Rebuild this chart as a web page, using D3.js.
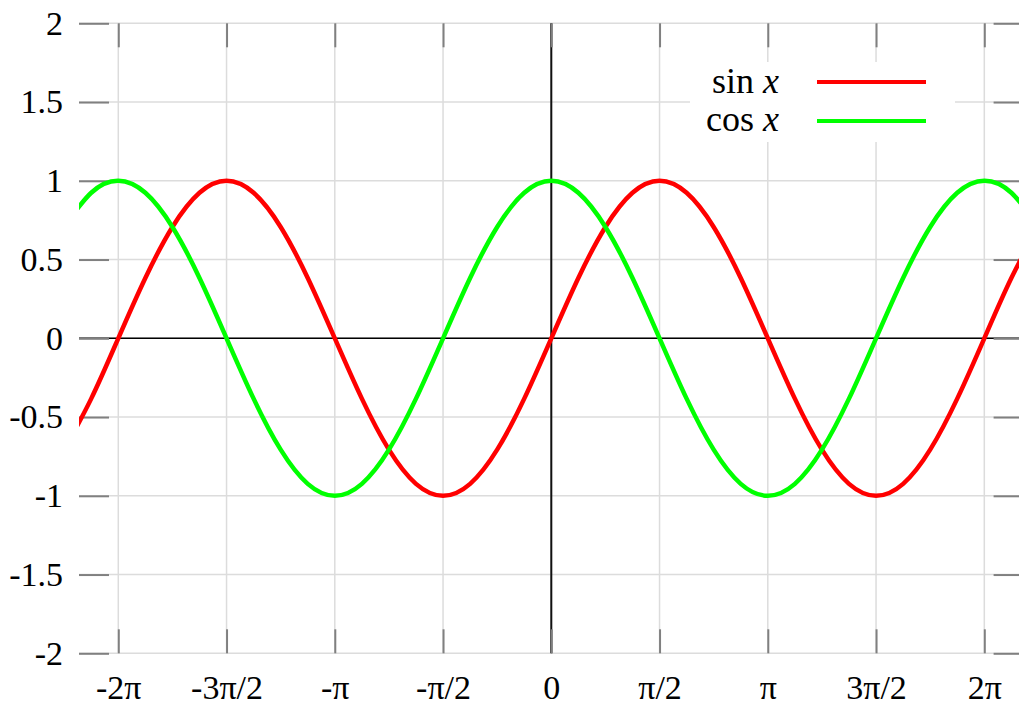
<!DOCTYPE html>
<html>
<head>
<meta charset="utf-8">
<script src="https://cdn.jsdelivr.net/npm/d3@7"></script>
<style>
  body { margin: 0; background: #fff; }
  svg { display: block; font-family: "Liberation Serif", "Times New Roman", serif; }
</style>
</head>
<body>
<div id="chart"></div>
<script>
// x positions in units of pi (steps of pi/8)
var xPi = [-2.25, -2.125, -2, -1.875, -1.75, -1.625, -1.5, -1.375, -1.25, -1.125,
  -1, -0.875, -0.75, -0.625, -0.5, -0.375, -0.25, -0.125, 0,
  0.125, 0.25, 0.375, 0.5, 0.625, 0.75, 0.875, 1, 1.125, 1.25, 1.375, 1.5,
  1.625, 1.75, 1.875, 2, 2.125, 2.25];

// values
var sinValues = [-0.707, -0.383, 0, 0.383, 0.707, 0.924, 1, 0.924, 0.707, 0.383,
  0, -0.383, -0.707, -0.924, -1, -0.924, -0.707, -0.383, 0,
  0.383, 0.707, 0.924, 1, 0.924, 0.707, 0.383, 0, -0.383, -0.707, -0.924, -1,
  -0.924, -0.707, -0.383, 0, 0.383, 0.707];

var cosValues = [0.707, 0.924, 1, 0.924, 0.707, 0.383, 0, -0.383, -0.707, -0.924,
  -1, -0.924, -0.707, -0.383, 0, 0.383, 0.707, 0.924, 1,
  0.924, 0.707, 0.383, 0, -0.383, -0.707, -0.924, -1, -0.924, -0.707, -0.383, 0,
  0.383, 0.707, 0.924, 1, 0.924, 0.707];

// tick values and labels
var xTickValues = [-2, -1.5, -1, -0.5, 0, 0.5, 1, 1.5, 2];
var xTickLabels = ["-2π", "-3π/2", "-π", "-π/2", "0", "π/2", "π", "3π/2", "2π"];
var yTickValues = [-2, -1.5, -1, -0.5, 0, 0.5, 1, 1.5, 2];
var yTickLabels = ["-2", "-1.5", "-1", "-0.5", "0", "0.5", "1", "1.5", "2"];

var seriesNames = ["sin x", "cos x"];
var seriesColors = ["#ff0000", "#00ff00"];

// SVG area
var svgWidth = 1019;
var svgHeight = 710;

// plot box (right edge runs past the picture edge)
var plot = { left: 79, right: 1023.6, top: 23.3, bottom: 653.3 };

var svg = d3.select("#chart")
  .append("svg")
  .attr("width", svgWidth)
  .attr("height", svgHeight);

var xScale = d3.scaleLinear()
  .domain([-2.1815, 2.1815])
  .range([plot.left, plot.right]);

var yScale = d3.scaleLinear()
  .domain([-2, 2])
  .range([plot.bottom, plot.top]);

// grid lines
var grid = svg.append("g");
grid.selectAll(".vgrid")
  .data(xTickValues)
  .enter()
  .append("line")
  .attr("x1", d => xScale(d))
  .attr("x2", d => xScale(d))
  .attr("y1", plot.top)
  .attr("y2", plot.bottom)
  .attr("stroke", "#dcdcdc")
  .attr("stroke-width", 1.5);
grid.selectAll(".hgrid")
  .data(yTickValues)
  .enter()
  .append("line")
  .attr("x1", plot.left)
  .attr("x2", plot.right)
  .attr("y1", d => yScale(d))
  .attr("y2", d => yScale(d))
  .attr("stroke", "#dcdcdc")
  .attr("stroke-width", 1.5);

// zero axes
svg.append("line")
  .attr("x1", plot.left).attr("x2", plot.right)
  .attr("y1", yScale(0)).attr("y2", yScale(0))
  .attr("stroke", "#000").attr("stroke-width", 1.5);
svg.append("line")
  .attr("x1", xScale(0)).attr("x2", xScale(0))
  .attr("y1", plot.top).attr("y2", plot.bottom)
  .attr("stroke", "#111").attr("stroke-width", 2);

// axes with inward ticks
var fmtX = (d, i) => xTickLabels[i];
var fmtY = (d, i) => yTickLabels[i];

svg.append("g")
  .attr("transform", `translate(${plot.left},0)`)
  .call(d3.axisLeft(yScale).tickValues(yTickValues).tickFormat(fmtY)
    .tickSizeInner(-30).tickSizeOuter(0).tickPadding(16));

svg.append("g")
  .attr("transform", `translate(${plot.right},0)`)
  .call(d3.axisRight(yScale).tickValues(yTickValues).tickFormat("")
    .tickSizeInner(-30).tickSizeOuter(0));

svg.append("g")
  .attr("transform", `translate(0,${plot.bottom})`)
  .call(d3.axisBottom(xScale).tickValues(xTickValues).tickFormat(fmtX)
    .tickSizeInner(-24).tickSizeOuter(0).tickPadding(22));

svg.append("g")
  .attr("transform", `translate(0,${plot.top})`)
  .call(d3.axisTop(xScale).tickValues(xTickValues).tickFormat("")
    .tickSizeInner(-24).tickSizeOuter(0));

svg.selectAll(".domain").remove();
svg.selectAll(".tick line")
  .attr("stroke", "#808080")
  .attr("stroke-width", 2);
svg.selectAll(".tick text")
  .attr("fill", "#000")
  .style("font-family", "'Liberation Serif', serif")
  .style("font-size", "34px");

// legend box
svg.append("rect")
  .attr("x", 690).attr("y", 62)
  .attr("width", 265).attr("height", 80)
  .attr("fill", "#fff");

// curves
svg.append("clipPath")
  .attr("id", "plotClip")
  .append("rect")
  .attr("x", plot.left)
  .attr("y", plot.top)
  .attr("width", plot.right - plot.left)
  .attr("height", plot.bottom - plot.top);

var line = d3.line()
  .x(d => xScale(d[0]))
  .y(d => yScale(d[1]))
  .curve(d3.curveNatural);

[sinValues, cosValues].forEach(function(values, i) {
  svg.append("path")
    .datum(xPi.map((x, j) => [x, values[j]]))
    .attr("clip-path", "url(#plotClip)")
    .attr("fill", "none")
    .attr("stroke", seriesColors[i])
    .attr("stroke-width", 4.5)
    .attr("d", line);
});

// legend entries
var legend = svg.append("g");
seriesNames.forEach(function(name, i) {
  var parts = name.split(" ");
  var t = legend.append("text")
    .attr("x", 779)
    .attr("y", 93 + i * 38)
    .attr("text-anchor", "end")
    .style("font-size", "36px");
  t.append("tspan").text(parts[0] + " ");
  t.append("tspan").attr("font-style", "italic").text(parts[1]);

  legend.append("line")
    .attr("x1", 817).attr("x2", 926)
    .attr("y1", 82 + i * 39).attr("y2", 82 + i * 39)
    .attr("stroke", seriesColors[i])
    .attr("stroke-width", 4);
});
</script>
</body>
</html>
